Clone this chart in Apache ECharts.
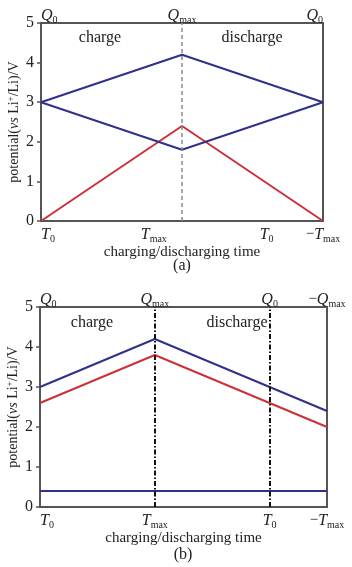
<!DOCTYPE html>
<html>
<head>
<meta charset="utf-8">
<script src="https://cdn.jsdelivr.net/npm/echarts@6/dist/echarts.min.js"></script>
<style>
  html, body { margin: 0; padding: 0; background: #fff; }
  #main { width: 352px; height: 567px; }
</style>
</head>
<body>
<div id="main"></div>
<script>
// panel (a)
var aTimes = [0, 1.25, 2.5];
var aBlueUpper = [3, 4.2, 3];
var aBlueLower = [3, 1.8, 3];
var aRed = [0, 2.4, 0];
var aBottomTicks = [0, 1, 2, 2.5];
var aBottomLabels = ["T0", "Tmax", "T0", "−Tmax"];
var aTopTicks = [0, 1.25, 2.5];
var aTopLabels = ["Q0", "Qmax", "Q0"];
var aMarks = [1.25];

// panel (b)
var bTimes = [0, 1, 2, 2.5];
var bBlueUpper = [3, 4.2, 3, 2.4];
var bRed = [2.6, 3.8, 2.6, 2.0];
var bBlueFlat = [0.4, 0.4, 0.4, 0.4];
var bBottomTicks = [0, 1, 2, 2.5];
var bBottomLabels = ["T0", "Tmax", "T0", "−Tmax"];
var bTopTicks = [0, 1, 2, 2.5];
var bTopLabels = ["Q0", "Qmax", "Q0", "−Qmax"];
var bMarks = [1, 2];

var yTicks = [0, 1, 2, 3, 4, 5];

var SERIF = "Liberation Serif";
var BLUE = "#2f318a", RED = "#cc3038", FRAME = "#555";

function sub(s) {
    var m = /^(−?)([A-Z])(.*)$/.exec(s);
    return m[1] + "{i|" + m[2] + "}{s|" + m[3] + "}";
}
function pts(xs, ys) {
    return xs.map(function(x, i) { return [x, ys[i]]; });
}
var richQ = {
    i: { fontFamily: SERIF, fontStyle: "italic", fontSize: 16, color: "#222" },
    s: { fontFamily: SERIF, fontSize: 10, color: "#222", padding: [9, 0, 0, 0] }
};

function xAxisDef(grid, pos, ticks, labels, maxAlign, name) {
    return {
        type: "value", gridIndex: grid, position: pos, min: 0, max: 2.5,
        splitLine: { show: false },
        axisLine: { show: false },
        axisTick: { show: false },
        name: name || "",
        nameLocation: "middle", nameGap: 24,
        nameTextStyle: { fontFamily: SERIF, fontSize: 15, color: "#222" },
        axisLabel: {
            customValues: ticks, margin: pos === "top" ? -2 : 4,
            alignMinLabel: "left", alignMaxLabel: maxAlign,
            fontFamily: SERIF, fontSize: 15, color: "#222",
            rich: richQ,
            formatter: function(v) {
                var k = ticks.indexOf(v);
                return k < 0 ? "" : sub(labels[k]);
            }
        }
    };
}
function yAxisDef(grid) {
    return {
        type: "value", gridIndex: grid, min: 0, max: 5, interval: 1,
        splitLine: { show: false },
        axisLine: { show: true, lineStyle: { color: FRAME, width: 2 } },
        axisTick: { show: true, inside: false, length: 4, lineStyle: { color: FRAME, width: 1.5 } },
        axisLabel: { margin: 7, fontFamily: SERIF, fontSize: 16, color: "#222",
            formatter: function(v) { return yTicks.indexOf(v) < 0 ? "" : String(v); } },
        name: "potential({it|vs} Li{sup|+}/Li)/V",
        nameLocation: "middle", nameRotate: 90, nameGap: 19, nameMoveOverlap: false,
        nameTextStyle: {
            fontFamily: SERIF, fontSize: 14, color: "#222",
            rich: {
                it: { fontFamily: SERIF, fontStyle: "italic", fontSize: 14, color: "#222" },
                sup: { fontFamily: SERIF, fontSize: 9, color: "#222", padding: [0, 0, 7, 0] }
            }
        }
    };
}
function line(xi, yi, xs, ys, color, mark) {
    var s = {
        type: "line", xAxisIndex: xi, yAxisIndex: yi, data: pts(xs, ys),
        symbol: "none", silent: true,
        lineStyle: { color: color, width: 2 }, z: 3
    };
    if (mark) s.markLine = mark;
    return s;
}
function marks(vals, style) {
    return {
        symbol: "none", silent: true, label: { show: false },
        lineStyle: style,
        data: vals.map(function(v) { return { xAxis: v }; })
    };
}
function txt(x, y, t, size) {
    return {
        type: "text", x: x, y: y, silent: true,
        style: { text: t, fontFamily: SERIF, fontSize: size || 16, fill: "#222",
            textAlign: "center", textVerticalAlign: "middle" }
    };
}

var chart = echarts.init(document.getElementById("main"));
chart.setOption({
    animation: false,
    grid: [
        { left: 41, right: 29, top: 23, height: 198, outerBoundsMode: "none", containLabel: false,
          show: true, borderColor: FRAME, borderWidth: 2 },
        { left: 40, right: 25, top: 307, height: 200, outerBoundsMode: "none", containLabel: false,
          show: true, borderColor: FRAME, borderWidth: 2 }
    ],
    xAxis: [
        xAxisDef(0, "bottom", aBottomTicks, aBottomLabels, "center", "charging/discharging time"),
        xAxisDef(0, "top", aTopTicks, aTopLabels, "right"),
        xAxisDef(1, "bottom", bBottomTicks, bBottomLabels, "center", "charging/discharging time"),
        xAxisDef(1, "top", bTopTicks, bTopLabels, "center")
    ],
    yAxis: [yAxisDef(0), yAxisDef(1)],
    graphic: [
        txt(100, 38, "charge"), txt(252, 38, "discharge"), txt(182, 266, "(a)"),
        txt(92, 323, "charge"), txt(237, 323, "discharge"), txt(183, 555, "(b)")
    ],
    series: [
        line(0, 0, aTimes, aRed, RED, marks(aMarks, { color: "#8a8a8a", width: 1.5, type: [4, 3] })),
        line(0, 0, aTimes, aBlueUpper, BLUE),
        line(0, 0, aTimes, aBlueLower, BLUE),
        line(2, 1, bTimes, bRed, RED, marks(bMarks, { color: "#111", width: 2, type: [5, 2, 1.5, 2] })),
        line(2, 1, bTimes, bBlueUpper, BLUE),
        line(2, 1, bTimes, bBlueFlat, BLUE)
    ]
});
</script>
</body>
</html>
